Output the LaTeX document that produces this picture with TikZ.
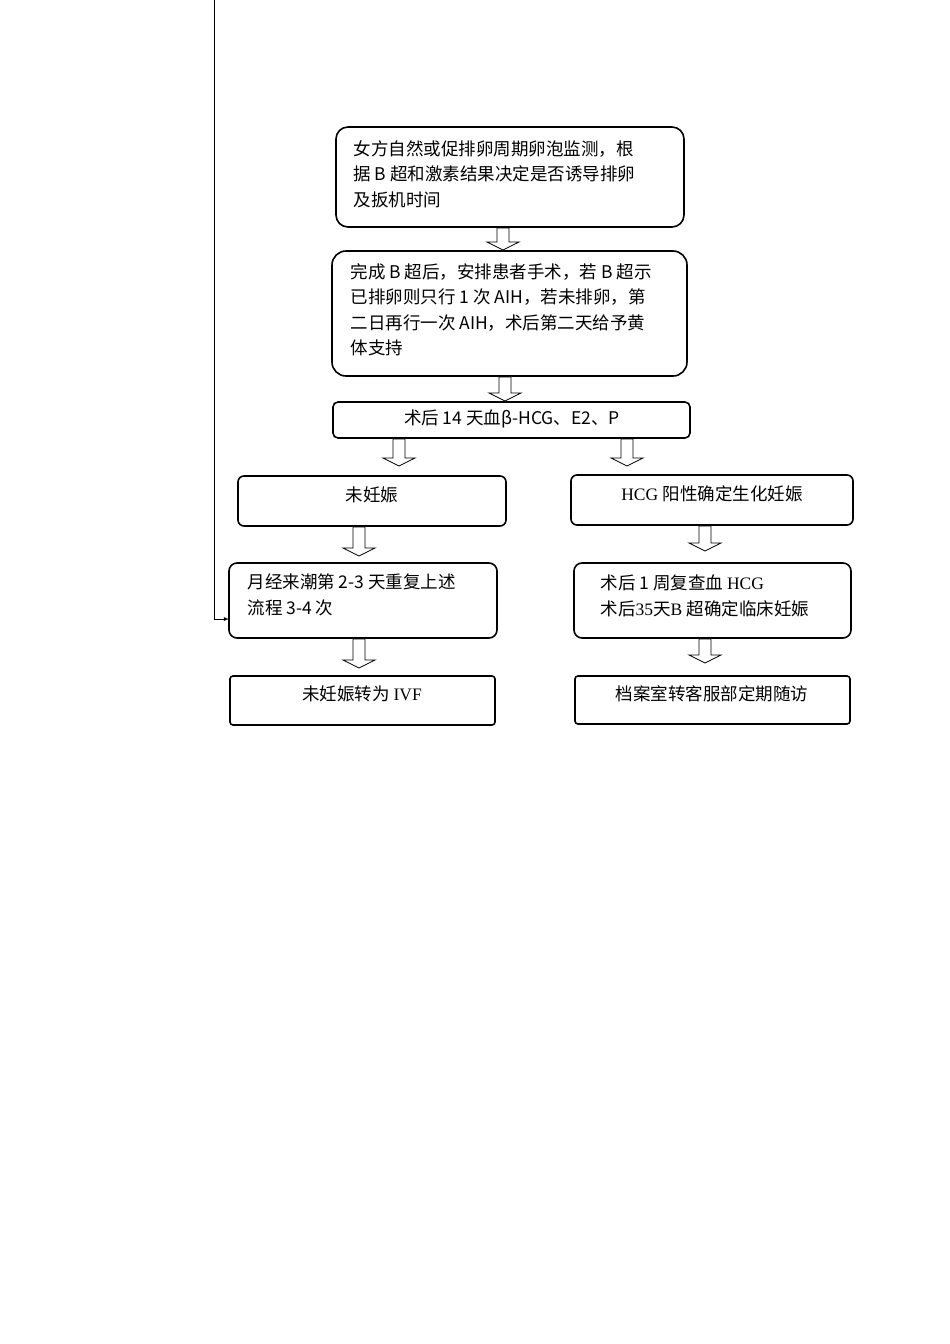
\documentclass[tikz,border=0pt]{standalone}
\usepackage{fontspec}
\setmainfont{Liberation Serif}
\newfontfamily\cjk{Noto Sans CJK SC}
\begin{document}
\begin{tikzpicture}[x=1pt,y=-1pt,
  box/.style={draw,line width=1.6pt,rounded corners=#1,inner sep=0pt},
  box/.default=10pt,
  txt/.style={font=\fontsize{17.5}{25.5}\selectfont\cjk,align=left,anchor=west},
  ctxt/.style={font=\fontsize{17.5}{25.5}\selectfont\cjk,align=center},
  hol/.style={draw,line width=0.8pt,fill=white}]
\useasboundingbox (0,0) rectangle (950,1344);
\newcommand\harrow[3]{\draw[hol] (#1-6,#2)--(#1+6,#2)--(#1+6,#3-8)--(#1+16,#3-8)--(#1,#3)--(#1-16,#3-8)--(#1-6,#3-8)--cycle;}
% boxes
\draw[box=12pt] (336,127) rectangle (684,227);
\node[txt] (t1) at (350,174) {女方自然或促排卵周期卵泡监测，根\\据 B 超和激素结果决定是否诱导排卵\\及扳机时间};
\draw[box=14pt] (332,251) rectangle (687,376);
\node[txt] (t2) at (347,310) {完成 B 超后，安排患者手术，若 B 超示\\已排卵则只行 1 次 AIH，若未排卵，第\\二日再行一次 AIH，术后第二天给予黄\\体支持};
\draw[box=5pt] (333,402) rectangle (690,438);
\node[ctxt] (t3) at (512,419) {术后 14 天血β-HCG、E2、P};
\draw[box=6pt] (238,476) rectangle (506,526);
\node[ctxt] (t4) at (372,495) {未妊娠};
\draw[box=6pt] (571,475) rectangle (853,525);
\node[ctxt] (t5) at (712,494) {\rmfamily HCG \cjk 阳性确定生化妊娠};
\draw[box=8pt] (229,563) rectangle (497,638);
\node[txt] (t6) at (244,595) {月经来潮第 2-3 天重复上述\\流程 3-4 次};
\draw[box=8pt] (574,563) rectangle (851,638);
\node[txt] (t7) at (597,596) {术后 1 周复查血 \rmfamily HCG\\\cjk 术后\rmfamily 35\cjk 天\rmfamily B \cjk 超确定临床妊娠};
\draw[box=3pt] (230,676) rectangle (495,725);
\node[ctxt] (t8) at (362,694) {未妊娠转为 \rmfamily IVF};
\draw[box=3pt] (575,676) rectangle (850,724);
\node[ctxt] (t9) at (712,694) {档案室转客服部定期随访};
% loop line
\coordinate (top) at (214,0);
\coordinate (lp) at (229,619);
\draw[line width=0.8pt,-latex] (top) |- (lp);
% hollow arrows
\harrow{503}{228}{250}
\harrow{505}{377}{401}
\harrow{399}{439}{466}
\harrow{627}{439}{466}
\harrow{359}{527}{556}
\harrow{705}{526}{551}
\harrow{359}{639}{668}
\harrow{705}{639}{663}
\end{tikzpicture}
\end{document}
